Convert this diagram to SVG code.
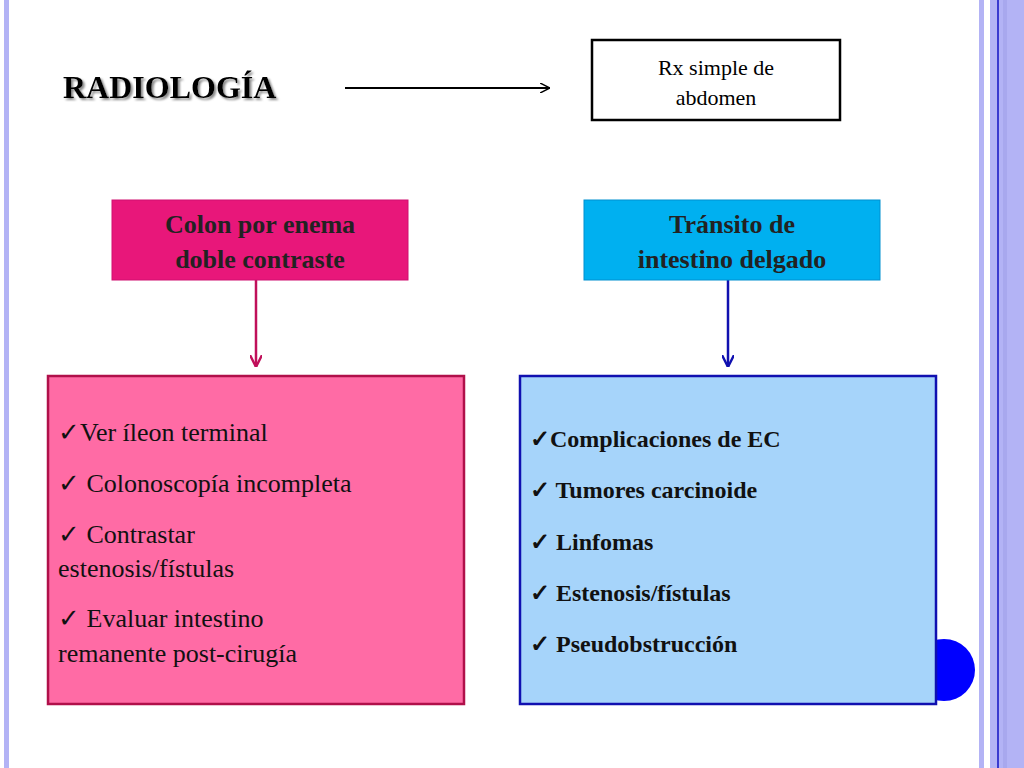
<svg xmlns="http://www.w3.org/2000/svg" width="1024" height="768" viewBox="0 0 1024 768">
<defs>
<style>
.t{font-family:"Liberation Serif",serif;}
.b{font-weight:bold;}
</style>
<marker id="ak" viewBox="0 0 10 10" refX="10" refY="5" markerWidth="10" markerHeight="10" markerUnits="userSpaceOnUse" orient="auto"><path d="M0,0 L10,5 L0,10" fill="none" stroke="#000" stroke-width="1.5"/></marker>
<marker id="ap" viewBox="0 0 10 10" refX="10" refY="5" markerWidth="12" markerHeight="12" markerUnits="userSpaceOnUse" orient="auto"><path d="M0,0 L10,5 L0,10" fill="none" stroke="#c0105a" stroke-width="2"/></marker>
<marker id="ab" viewBox="0 0 10 10" refX="10" refY="5" markerWidth="12" markerHeight="12" markerUnits="userSpaceOnUse" orient="auto"><path d="M0,0 L10,5 L0,10" fill="none" stroke="#1010b0" stroke-width="2"/></marker>
<filter id="sh"><feDropShadow dx="2" dy="2" stdDeviation="1" flood-color="#888"/></filter>
</defs>
<rect width="1024" height="768" fill="#fff"/>
<rect x="4" y="0" width="5" height="768" fill="#b3b3f5"/>
<rect x="979" y="0" width="5" height="768" fill="#b3b3f5"/>
<rect x="990" y="0" width="34" height="768" fill="#b3b3f5"/>
<rect x="997" y="0" width="2" height="768" fill="#3a3ad0"/>
<rect x="1003" y="0" width="4" height="768" fill="#a8a8ee"/>
<ellipse cx="944" cy="670" rx="31" ry="31" fill="#0000ff"/>
<g id="connectors">
<line x1="345" y1="88" x2="550" y2="88" stroke="#000" stroke-width="2" marker-end="url(#ak)"/>
<line x1="256" y1="280" x2="256" y2="367" stroke="#c0105a" stroke-width="2.5" marker-end="url(#ap)"/>
<line x1="728" y1="280" x2="728" y2="367" stroke="#1010b0" stroke-width="2.5" marker-end="url(#ab)"/>
</g>
<g id="title"><text class="t b" x="63" y="98" font-size="32" filter="url(#sh)">RADIOLOGÍA</text></g>
<g id="rx">
<rect x="592" y="40" width="248" height="80" fill="#fff" stroke="#000" stroke-width="2.5"/>
<text class="t" x="716" y="75" font-size="22" text-anchor="middle">Rx simple de</text>
<text class="t" x="716" y="105" font-size="22" text-anchor="middle">abdomen</text>
</g>
<g id="colon">
<rect x="112" y="200" width="296" height="80" fill="#e8177a" stroke="#d01070"/>
<text class="t b" x="260" y="233" font-size="26" text-anchor="middle" fill="#222">Colon por enema</text>
<text class="t b" x="260" y="268" font-size="26" text-anchor="middle" fill="#222">doble contraste</text>
</g>
<g id="transito">
<rect x="584" y="200" width="296" height="80" fill="#00b0f0" stroke="#0090d0"/>
<text class="t b" x="732" y="233" font-size="26" text-anchor="middle" fill="#222">Tránsito de</text>
<text class="t b" x="732" y="268" font-size="26" text-anchor="middle" fill="#222">intestino delgado</text>
</g>
<g id="listpink">
<rect x="48" y="376" width="416" height="328" fill="#ff6ba5" stroke="#b0104a" stroke-width="2.5"/>
<g class="t" font-size="26" fill="#111">
<text x="58" y="441">✓Ver íleon terminal</text>
<text x="58" y="492">✓ Colonoscopía incompleta</text>
<text x="58" y="543">✓ Contrastar</text>
<text x="58" y="577">estenosis/fístulas</text>
<text x="58" y="627">✓ Evaluar intestino</text>
<text x="58" y="662">remanente post-cirugía</text>
</g>
</g>
<g id="listblue">
<rect x="520" y="376" width="416" height="328" fill="#a6d4fa" stroke="#1010b0" stroke-width="2.5"/>
<g class="t b" font-size="24" fill="#111">
<text x="530" y="447">✓Complicaciones de EC</text>
<text x="530" y="498">✓ Tumores carcinoide</text>
<text x="530" y="550">✓ Linfomas</text>
<text x="530" y="601">✓ Estenosis/fístulas</text>
<text x="530" y="652">✓ Pseudobstrucción</text>
</g>
</g>
</svg>
